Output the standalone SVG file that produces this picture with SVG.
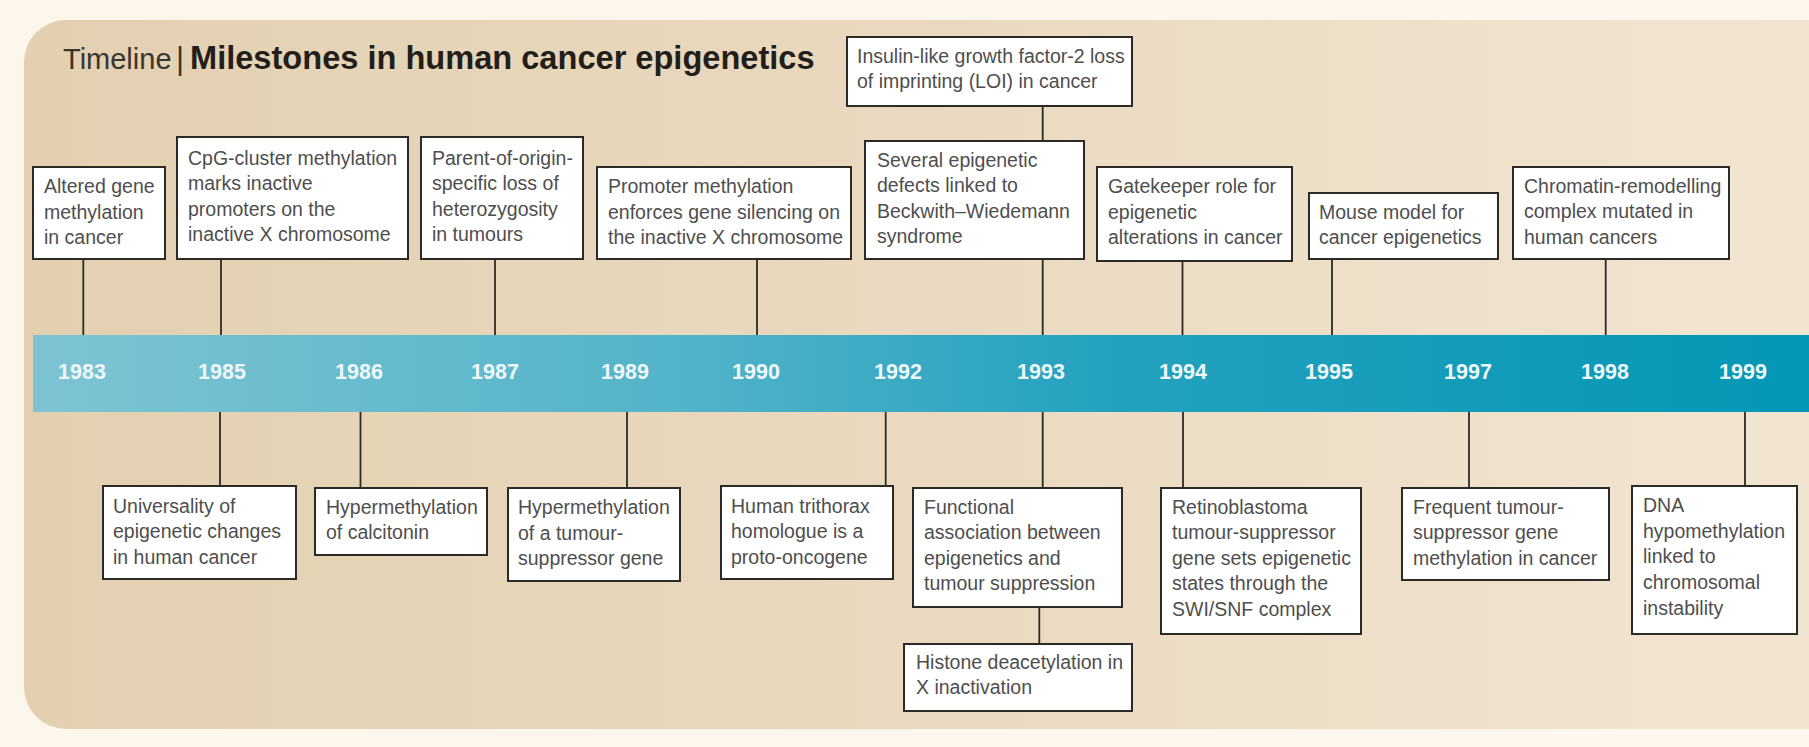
<svg xmlns="http://www.w3.org/2000/svg" width="1809" height="747" viewBox="0 0 1809 747">
<defs>
<linearGradient id="panelGrad" x1="0" y1="0" x2="1" y2="0">
<stop offset="0" stop-color="#e3d0b1"/>
<stop offset="0.5" stop-color="#ead9c0"/>
<stop offset="1" stop-color="#f1e5d2"/>
</linearGradient>
<linearGradient id="bandGrad" x1="0" y1="0" x2="1" y2="0">
<stop offset="0" stop-color="#7dc4d3"/>
<stop offset="0.35" stop-color="#55b4c9"/>
<stop offset="0.6" stop-color="#24a2bf"/>
<stop offset="1" stop-color="#0397b5"/>
</linearGradient>
<style>
.box{fill:#ffffff;stroke:#2d2925;stroke-width:2}
.t{font-family:"Liberation Sans",Arial,sans-serif;font-size:19.5px;fill:#4e4e4e}
.yr{font-family:"Liberation Sans",Arial,sans-serif;font-size:21.5px;font-weight:bold;fill:#eef7fa;text-anchor:middle}
.conn line{stroke:#2d2925;stroke-width:1.8}
.title{font-family:"Liberation Sans",Arial,sans-serif;font-size:31px}
</style>
</defs>
<rect x="0" y="0" width="1809" height="747" fill="#fcf6ec"/>
<path d="M1809 20 H66 A42 42 0 0 0 24 62 V687 A42 42 0 0 0 66 729 H1809 Z" fill="url(#panelGrad)"/>
<rect x="33" y="335" width="1776" height="77" fill="url(#bandGrad)"/>
<g id="title">
<text class="title" y="69" fill="#3b352e"><tspan x="63" font-size="29">Timeline</tspan><tspan x="176">|</tspan><tspan x="190" fill="#231e19" font-weight="bold" font-size="32.6">Milestones in human cancer epigenetics</tspan></text>
</g>
<g id="years">
<text class="yr" x="82" y="379">1983</text>
<text class="yr" x="222" y="379">1985</text>
<text class="yr" x="359" y="379">1986</text>
<text class="yr" x="495" y="379">1987</text>
<text class="yr" x="625" y="379">1989</text>
<text class="yr" x="756" y="379">1990</text>
<text class="yr" x="898" y="379">1992</text>
<text class="yr" x="1041" y="379">1993</text>
<text class="yr" x="1183" y="379">1994</text>
<text class="yr" x="1329" y="379">1995</text>
<text class="yr" x="1468" y="379">1997</text>
<text class="yr" x="1605" y="379">1998</text>
<text class="yr" x="1743" y="379">1999</text>
</g>
<g class="conn" id="connectors">
<line x1="83.3" y1="259" x2="83.3" y2="335"/>
<line x1="221" y1="259" x2="221" y2="335"/>
<line x1="495" y1="259" x2="495" y2="335"/>
<line x1="757" y1="259" x2="757" y2="335"/>
<line x1="1042.7" y1="106" x2="1042.7" y2="141"/>
<line x1="1042.7" y1="259" x2="1042.7" y2="335"/>
<line x1="1182.5" y1="261" x2="1182.5" y2="335"/>
<line x1="1332" y1="259" x2="1332" y2="335"/>
<line x1="1605.7" y1="259" x2="1605.7" y2="335"/>
<line x1="220" y1="412" x2="220" y2="486"/>
<line x1="360.5" y1="412" x2="360.5" y2="488"/>
<line x1="627" y1="412" x2="627" y2="488"/>
<line x1="885.7" y1="412" x2="885.7" y2="486"/>
<line x1="1042.7" y1="412" x2="1042.7" y2="488"/>
<line x1="1039.3" y1="607" x2="1039.3" y2="644"/>
<line x1="1183" y1="412" x2="1183" y2="488"/>
<line x1="1469" y1="412" x2="1469" y2="488"/>
<line x1="1745" y1="412" x2="1745" y2="486"/>
</g>
<g id="n1983">
<rect class="box" x="33" y="167" width="132" height="92"/>
<text class="t"><tspan x="44" y="193">Altered gene</tspan><tspan x="44" y="218.6">methylation</tspan><tspan x="44" y="244.2">in cancer</tspan></text>
</g>
<g id="n1985a">
<rect class="box" x="177" y="137" width="231" height="122"/>
<text class="t"><tspan x="188" y="164.5">CpG-cluster methylation</tspan><tspan x="188" y="190.1">marks inactive</tspan><tspan x="188" y="215.7">promoters on the</tspan><tspan x="188" y="241.3">inactive X chromosome</tspan></text>
</g>
<g id="n1987">
<rect class="box" x="421" y="137" width="162" height="122"/>
<text class="t"><tspan x="432" y="164.5">Parent-of-origin-</tspan><tspan x="432" y="190.1">specific loss of</tspan><tspan x="432" y="215.7">heterozygosity</tspan><tspan x="432" y="241.3">in tumours</tspan></text>
</g>
<g id="n1990">
<rect class="box" x="597" y="167" width="254" height="92"/>
<text class="t"><tspan x="608" y="193">Promoter methylation</tspan><tspan x="608" y="218.6">enforces gene silencing on</tspan><tspan x="608" y="244.2">the inactive X chromosome</tspan></text>
</g>
<g id="n1993a">
<rect class="box" x="847" y="37" width="285" height="69"/>
<text class="t"><tspan x="857" y="62.5">Insulin-like growth factor-2 loss</tspan><tspan x="857" y="88.1">of imprinting (LOI) in cancer</tspan></text>
</g>
<g id="n1993b">
<rect class="box" x="865" y="141" width="219" height="118"/>
<text class="t"><tspan x="877" y="166.5">Several epigenetic</tspan><tspan x="877" y="192.1">defects linked to</tspan><tspan x="877" y="217.7">Beckwith–Wiedemann</tspan><tspan x="877" y="243.3">syndrome</tspan></text>
</g>
<g id="n1994a">
<rect class="box" x="1097" y="167" width="195" height="94"/>
<text class="t"><tspan x="1108" y="193">Gatekeeper role for</tspan><tspan x="1108" y="218.6">epigenetic</tspan><tspan x="1108" y="244.2">alterations in cancer</tspan></text>
</g>
<g id="n1995">
<rect class="box" x="1309" y="193" width="189" height="66"/>
<text class="t"><tspan x="1319" y="218.5">Mouse model for</tspan><tspan x="1319" y="244.1">cancer epigenetics</tspan></text>
</g>
<g id="n1998">
<rect class="box" x="1513" y="167" width="216" height="92"/>
<text class="t"><tspan x="1524" y="192.5">Chromatin-remodelling</tspan><tspan x="1524" y="218.1">complex mutated in</tspan><tspan x="1524" y="243.7">human cancers</tspan></text>
</g>
<g id="n1985b">
<rect class="box" x="103" y="486" width="193" height="93"/>
<text class="t"><tspan x="113" y="512.5">Universality of</tspan><tspan x="113" y="538.1">epigenetic changes</tspan><tspan x="113" y="563.7">in human cancer</tspan></text>
</g>
<g id="n1986">
<rect class="box" x="315" y="488" width="172" height="67"/>
<text class="t"><tspan x="326" y="513.5">Hypermethylation</tspan><tspan x="326" y="539.1">of calcitonin</tspan></text>
</g>
<g id="n1989">
<rect class="box" x="508" y="488" width="172" height="93"/>
<text class="t"><tspan x="518" y="514">Hypermethylation</tspan><tspan x="518" y="539.6">of a tumour-</tspan><tspan x="518" y="565.2">suppressor gene</tspan></text>
</g>
<g id="n1992">
<rect class="box" x="721" y="486" width="172" height="93"/>
<text class="t"><tspan x="731" y="512.7">Human trithorax</tspan><tspan x="731" y="538.3">homologue is a</tspan><tspan x="731" y="563.9">proto-oncogene</tspan></text>
</g>
<g id="n1993c">
<rect class="box" x="913" y="488" width="209" height="119"/>
<text class="t"><tspan x="924" y="513.5">Functional</tspan><tspan x="924" y="539.1">association between</tspan><tspan x="924" y="564.7">epigenetics and</tspan><tspan x="924" y="590.3">tumour suppression</tspan></text>
</g>
<g id="n1993d">
<rect class="box" x="904" y="644" width="228" height="67"/>
<text class="t"><tspan x="916" y="668.5">Histone deacetylation in</tspan><tspan x="916" y="694.1">X inactivation</tspan></text>
</g>
<g id="n1994b">
<rect class="box" x="1161" y="488" width="200" height="146"/>
<text class="t"><tspan x="1172" y="513.5">Retinoblastoma</tspan><tspan x="1172" y="539.1">tumour-suppressor</tspan><tspan x="1172" y="564.7">gene sets epigenetic</tspan><tspan x="1172" y="590.3">states through the</tspan><tspan x="1172" y="615.9">SWI/SNF complex</tspan></text>
</g>
<g id="n1997">
<rect class="box" x="1402" y="488" width="207" height="92"/>
<text class="t"><tspan x="1413" y="513.5">Frequent tumour-</tspan><tspan x="1413" y="539.1">suppressor gene</tspan><tspan x="1413" y="564.7">methylation in cancer</tspan></text>
</g>
<g id="n1999">
<rect class="box" x="1632" y="486" width="165" height="148"/>
<text class="t"><tspan x="1643" y="511.7">DNA</tspan><tspan x="1643" y="537.5">hypomethylation</tspan><tspan x="1643" y="563.3">linked to</tspan><tspan x="1643" y="589.1">chromosomal</tspan><tspan x="1643" y="614.9">instability</tspan></text>
</g>
</svg>
